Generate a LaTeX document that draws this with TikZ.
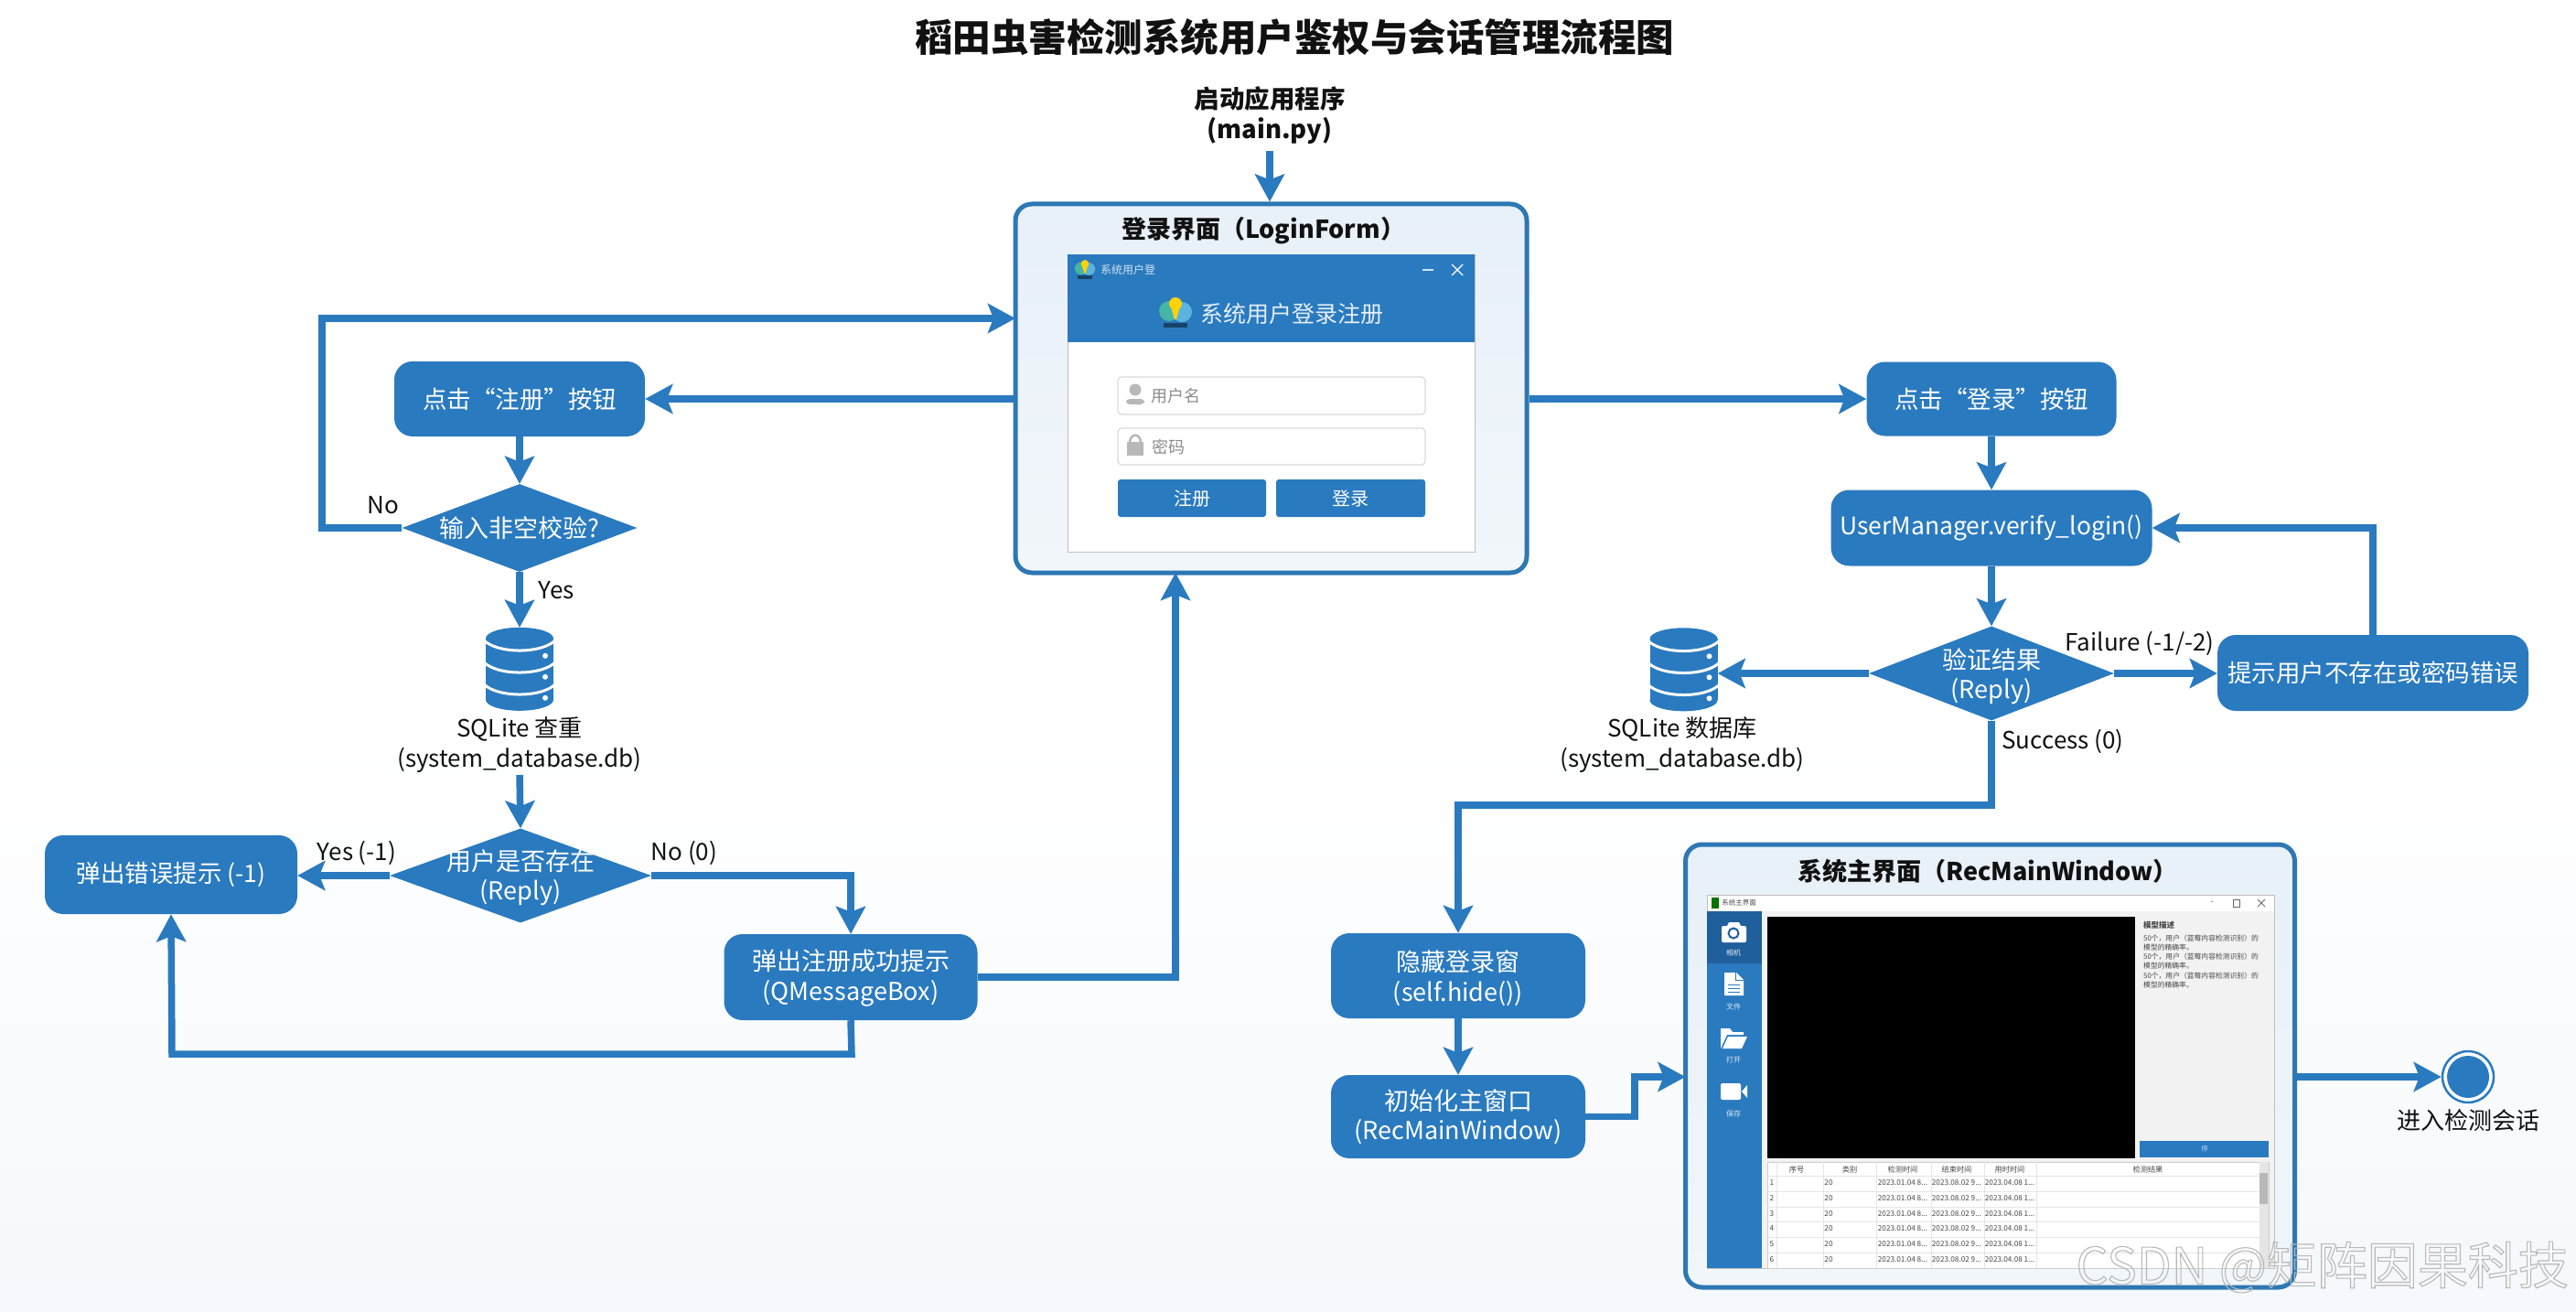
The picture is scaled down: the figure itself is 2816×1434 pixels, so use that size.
\documentclass[tikz,border=0pt]{standalone}
\usepackage{fontspec}
\setmainfont{Noto Sans CJK SC}
\usetikzlibrary{shapes.geometric,arrows.meta,calc}
\definecolor{fblue}{HTML}{2A7ABF}
\definecolor{fdark}{HTML}{1F5F9C}
\definecolor{fline}{HTML}{2D78B4}
\definecolor{ink}{HTML}{111111}
\definecolor{frametop}{HTML}{E8F0F8}
\definecolor{framebot}{HTML}{F1F6FA}
\definecolor{pagebot}{HTML}{F5F8FC}
\definecolor{HTML-teal}{HTML}{45B5A6}
\definecolor{HTML-sky}{HTML}{5CB4DE}
\newcommand\fsz[1]{\fontsize{#1}{32.5}\selectfont}
\tikzset{
  flowbase/.style={line width=7.5pt,draw=fblue,line join=miter},
  flow/.style={flowbase,-{Stealth[length=30pt,width=32pt,inset=6pt]}},
  stepbox/.style={rounded corners=20pt,fill=fblue,text=white,align=center,inner sep=0pt,font=\fsz{26.5}},
  steptext/.style={text=white,align=center,inner sep=0pt,font=\fsz{27}},
  decide/.style={diamond,fill=fblue,inner sep=0pt},
  dectext/.style={text=white,align=center,inner sep=0pt,font=\fsz{27}},
  plain/.style={text=ink,align=center,inner sep=0pt,font=\fsz{26}},
  frame/.style={rounded corners=18pt,line width=5pt,draw=fline,inner sep=0pt,top color=frametop,bottom color=framebot},
  dbspot/.style={minimum width=74pt,minimum height=91pt,inner sep=0pt},
  micro/.style={inner sep=0pt,text=black!72,font=\fsz{8.2}},
  side/.style={inner sep=0pt,text=white!85!fblue,font=\fsz{8}},
}
\newcommand\dbicon[1]{%
  \begin{scope}[shift={(#1.north)}]
    \fill[fblue] (0,12) ellipse [x radius=37pt,y radius=12pt];
    \fill[fblue] (-37,12) rectangle (37,79);
    \fill[fblue] (0,79) ellipse [x radius=37pt,y radius=12pt];
    \foreach \yy in {14,38,62}
      \draw[white,line width=3pt] (-39,\yy) .. controls (-24,\yy+15) and (24,\yy+15) .. (39,\yy);
    \foreach \yy in {31,54,77}
      \fill[white] (28,\yy) circle [radius=3pt];
  \end{scope}}
\newcommand\logoicon[3]{%
  \begin{scope}[shift={(#1,#2)},scale=#3]
    \fill[black!45!fblue] (-13,12) rectangle (13,17);
    \fill[HTML-teal] (-7,-1) circle [radius=11pt];
    \fill[HTML-sky] (7,0) circle [radius=11pt];
    \fill[yellow!70!orange] (0,-9) circle [radius=7pt];
    \fill[yellow!70!orange] (-5,-6) -- (5,-6) -- (1,8) -- (-1,8) -- cycle;
  \end{scope}}
\begin{document}
\begin{tikzpicture}[x=1pt,y=-1pt]
\useasboundingbox (0,0) rectangle (2816,1434);
\fill[white] (0,0) rectangle (2816,800);
\shade[top color=white,bottom color=pagebot] (0,800) rectangle (2816,1434);

% title and start
\node[plain,font=\fsz{41.5}\bfseries] (title) at (1415,41) {稻田虫害检测系统用户鉴权与会话管理流程图};
\node[plain,font=\fsz{27.5}\bfseries,text=ink] (start) at (1388,126) {启动应用程序\\(main.py)};

% login frame
\node[frame,minimum width=559pt,minimum height=403pt] (login) at (1389.5,424.5) {};
\node[plain,font=\fsz{27}\bfseries] (logintitle) at (1381,252) {登录界面（LoginForm）};
\fill[white] (1167,278) rectangle (1612,603);
\draw[black!25,line width=1pt] (1167,278) rectangle (1612,603);
\fill[fblue] (1167,278) rectangle (1612,374);
\logoicon{1186}{294}{.62}
\node[inner sep=0pt,text=white!80!fblue,font=\fsz{12}] (wintitle) at (1233,295) {系统用户登};
\draw[white!80!fblue,line width=1.4pt] (1555,295) -- (1567,295);
\draw[white!90!fblue,line width=1.4pt] (1587,289) -- (1599,301) (1587,301) -- (1599,289);
\logoicon{1285}{341}{1}
\node[inner sep=0pt,text=white!88!fblue,font=\fsz{25}] (wintext) at (1412,343) {系统用户登录注册};
\draw[black!15,line width=1.2pt,rounded corners=4pt,fill=white] (1222,412) rectangle (1558,453);
\draw[black!15,line width=1.2pt,rounded corners=4pt,fill=white] (1222,468) rectangle (1558,508);
\fill[black!28] (1241,426) circle [radius=6.5pt];
\fill[black!28,rounded corners=4pt] (1231,442) -- (1231,436) -- (1251,436) -- (1251,442) -- cycle;
\draw[black!28,line width=2.5pt] (1235,484) .. controls (1235,473) and (1247,473) .. (1247,484);
\fill[black!28] (1232,483) rectangle (1250,498);
\node[inner sep=0pt,text=black!45,font=\fsz{18}] (userlbl) at (1285,433) {用户名};
\node[inner sep=0pt,text=black!45,font=\fsz{18}] (pwdlbl) at (1277,489) {密码};
\node[fill=fblue,rounded corners=3pt,minimum width=162pt,minimum height=41pt,inner sep=0pt,text=white,font=\fsz{20}] (btnreg) at (1303,544.5) {注册};
\node[fill=fblue,rounded corners=3pt,minimum width=163pt,minimum height=41pt,inner sep=0pt,text=white,font=\fsz{20}] (btnlog) at (1476.5,544.5) {登录};

% left flow
\node[stepbox,minimum width=274pt,minimum height=82pt] (reg) at (568,436) {点击“注册”按钮};
\node[decide,minimum width=257pt,minimum height=96pt] (d1) at (568,577) {};
\node[dectext] (d1t) at (568,577) {输入非空校验?};
\node[plain] (nolbl) at (419,552) {No};
\node[plain] (yeslbl) at (608,645) {Yes};
\node[dbspot] (db1) at (568,731.5) {};
\dbicon{db1}
\node[plain] (db1t) at (568,814) {SQLite 查重\\(system\_database.db)};
\node[decide,minimum width=286pt,minimum height=103pt] (d2) at (569,957) {};
\node[dectext] (d2t) at (569,959) {用户是否存在\\(Reply)};
\node[stepbox,minimum width=276pt,minimum height=86pt] (err) at (187,956) {弹出错误提示 (-1)};
\node[plain] (yes1) at (390,932) {Yes (-1)};
\node[plain] (no0) at (748,932) {No (0)};
\node[stepbox,minimum width=277pt,minimum height=94pt] (ok) at (930,1068) {};
\node[steptext] (okt) at (930,1069) {弹出注册成功提示\\(QMessageBox)};

% right flow
\node[stepbox,minimum width=273pt,minimum height=81pt] (logbtn) at (2177,436) {点击“登录”按钮};
\node[stepbox,minimum width=351pt,minimum height=83pt] (verify) at (2177,577) {UserManager.verify\_login()};
\node[decide,minimum width=268pt,minimum height=103pt] (d3) at (2177,736) {};
\node[dectext] (d3t) at (2177,739) {验证结果\\(Reply)};
\node[stepbox,minimum width=340pt,minimum height=83pt] (fail) at (2594,735.5) {提示用户不存在或密码错误};
\node[plain] (faillbl) at (2339,703) {Failure (-1/-2)};
\node[plain] (succlbl) at (2255,810) {Success (0)};
\node[dbspot] (db2) at (1840.5,732) {};
\dbicon{db2}
\node[plain] (db2t) at (1839,814) {SQLite 数据库\\(system\_database.db)};
\node[stepbox,minimum width=278pt,minimum height=93pt] (hide) at (1594,1066.5) {};
\node[steptext] (hidet) at (1594,1069) {隐藏登录窗\\(self.hide())};
\node[stepbox,font=\fsz{27},minimum width=278pt,minimum height=91pt] (init) at (1594,1220.5) {初始化主窗口\\(RecMainWindow)};

% main window frame
\node[frame,minimum width=666pt,minimum height=484pt] (mainw) at (2175.5,1165) {};
\node[plain,font=\fsz{27}\bfseries] (maintitle) at (2173,952) {系统主界面（RecMainWindow）};
\fill[black!5] (1866,978) rectangle (2486,1386);
\fill[white] (1866,978) rectangle (2486,996);
\draw[black!25,line width=1pt] (1866,978) rectangle (2486,1386);
\fill[green!45!black] (1871,981) rectangle (1879,993);
\node[inner sep=0pt,text=black!70,font=\fsz{7.5}] (mtt) at (1901,987) {系统主界面};
\node[inner sep=0pt,text=black!60,font=\fsz{10}] (mmin) at (2418,987) {-};
\draw[black!60,line width=1pt] (2441,983) rectangle (2448,991);
\draw[black!60,line width=1pt] (2468,983) -- (2476,991) (2468,991) -- (2476,983);
% sidebar
\fill[fblue] (1866,996) rectangle (1926,1386);
\fill[fdark] (1866,996) rectangle (1926,1053);
\fill[white,rounded corners=2pt] (1882,1012) rectangle (1909,1030);
\fill[white] (1888,1012) -- (1890,1008) -- (1901,1008) -- (1903,1012) -- cycle;
\draw[fdark,line width=2pt] (1895,1020) circle [radius=5.5pt];
\fill[white] (1885,1063) -- (1898,1063) -- (1906,1071) -- (1906,1088) -- (1885,1088) -- cycle;
\draw[fblue,line width=1pt] (1889,1076) -- (1902,1076) (1889,1080) -- (1902,1080) (1889,1084) -- (1902,1084);
\draw[fblue,line width=1pt] (1897,1063) -- (1897,1071) -- (1906,1071);
\fill[white] (1881,1124) -- (1891,1124) -- (1894,1128) -- (1906,1128) -- (1906,1131) -- (1888,1131) -- (1881,1146) -- cycle;
\fill[white] (1889,1133) -- (1910,1133) -- (1904,1146) -- (1883,1146) -- cycle;
\fill[white,rounded corners=2pt] (1881,1184) rectangle (1903,1202);
\fill[white] (1904,1193) -- (1910,1186) -- (1910,1200) -- cycle;
\node[side] (s1) at (1895,1041) {相机};
\node[side] (s2) at (1895,1100) {文件};
\node[side] (s3) at (1895,1158) {打开};
\node[side] (s4) at (1895,1217) {保存};
% video area
\fill[black] (1932,1002) rectangle (2334,1266);
\fill[fblue] (2339,1247) rectangle (2480,1265);
\node[inner sep=0pt,text=white!70!fblue,font=\fsz{7.5}] (go) at (2410,1256) {停};
\node[micro,anchor=west,font=\fsz{8.5}\bfseries] (p0) at (2343,1011) {模型描述};
\node[micro,anchor=west,font=\fsz{7.8}] (p1) at (2343,1026) {50个，用户（蓝莓内容检测识别）的};
\node[micro,anchor=west,font=\fsz{7.8}] (p2) at (2343,1036) {模型的精确率。};
\node[micro,anchor=west,font=\fsz{7.8}] (p3) at (2343,1046) {50个，用户（蓝莓内容检测识别）的};
\node[micro,anchor=west,font=\fsz{7.8}] (p4) at (2343,1056) {模型的精确率。};
\node[micro,anchor=west,font=\fsz{7.8}] (p5) at (2343,1067) {50个，用户（蓝莓内容检测识别）的};
\node[micro,anchor=west,font=\fsz{7.8}] (p6) at (2343,1077) {模型的精确率。};
% table
\fill[white] (1932,1270) rectangle (2480,1386);
\draw[black!20,line width=1pt] (1932,1270) rectangle (2480,1386);
\foreach \xx in {1942.5,1993,2051,2111,2169,2226} \draw[black!10,line width=.8pt] (\xx,1270) -- (\xx,1386);
\foreach \yy in {1285,1302,1319,1335,1352,1369} \draw[black!10,line width=.8pt] (1932,\yy) -- (2470,\yy);
\fill[black!10] (2470,1270) rectangle (2480,1386);
\fill[black!28] (2470,1282) rectangle (2479,1316);
\node[micro] (h1) at (1964,1278) {序号};
\node[micro] (h2) at (2022,1278) {类别};
\node[micro] (h3) at (2080,1278) {检测时间};
\node[micro] (h4) at (2139,1278) {结束时间};
\node[micro] (h5) at (2197,1278) {用时时间};
\node[micro] (h6) at (2348,1278) {检测结果};
\foreach \yy/\nn in {1293/1,1310/2,1327/3,1343/4,1360/5,1377/6}{
  \node[micro] (ra\nn) at (1937,\yy) {\nn};
  \node[micro] (rb\nn) at (1999,\yy) {20};
  \node[micro] (rc\nn) at (2080,\yy) {2023.01.04 8...};
  \node[micro] (rd\nn) at (2139,\yy) {2023.08.02 9...};
  \node[micro] (re\nn) at (2197,\yy) {2023.04.08 1...};
}

% end
\node[circle,draw=fblue,line width=2.5pt,fill=white,minimum size=56pt,inner sep=0pt] (endc) at (2698,1177) {};
\fill[fblue] (endc.center) circle [radius=23pt];
\node[plain] (endt) at (2698,1225) {进入检测会话};

% coordinates for entries off-centre
\coordinate (loginIn) at (1110,348);
\coordinate (loginUp) at (1285,626);
\coordinate (startTail) at (1388,165);
\coordinate (mainIn) at (1842.5,1177);

% connectors
\draw[flow] (startTail) -- (login.north -| startTail);
\draw[flow] (login.west |- reg.east) -- (reg.east);
\draw[flow] (reg.south) -- (d1.north);
\draw[flow] (d1.west) -- (352,577) -- (352,348) -- (loginIn);
\draw[flow] (d1.south) -- (db1.north);
\draw[flow] (568,847) -- (d2.north);
\draw[flow] (d2.west) -- (err.east |- d2.west);
\draw[flow] (d2.east) -| (ok.north);
\draw[flow] (ok.south) -- (931,1152) -- (188,1152) -- (err.south);
\draw[flow] (ok.east) -| (loginUp);
\draw[flow] (login.east |- logbtn.west) -- (logbtn.west);
\draw[flow] (logbtn.south) -- (verify.north);
\draw[flow] (verify.south) -- (d3.north);
\draw[flow] (d3.west) -- (db2.east |- d3.west);
\draw[flow] (d3.east) -- (fail.west |- d3.east);
\draw[flow] (fail.north) |- (verify.east);
\draw[flow] (d3.south) -- (2177,880) -| (hide.north);
\draw[flow] (hide.south) -- (init.north);
\draw[flow] (init.east) -- (1787,1220.5) -- (1787,1177) -- (mainIn);
\draw[flow] (mainIn -| mainw.east) -- (endc.west);

% watermark
\node[inner sep=0pt,text=black!6,font=\fsz{55},anchor=east] (wm) at (2808,1385) {\special{pdf:code q 1 Tr 1.1 w 0.72 G}CSDN @矩阵因果科技\special{pdf:code Q}};
\end{tikzpicture}
\end{document}
